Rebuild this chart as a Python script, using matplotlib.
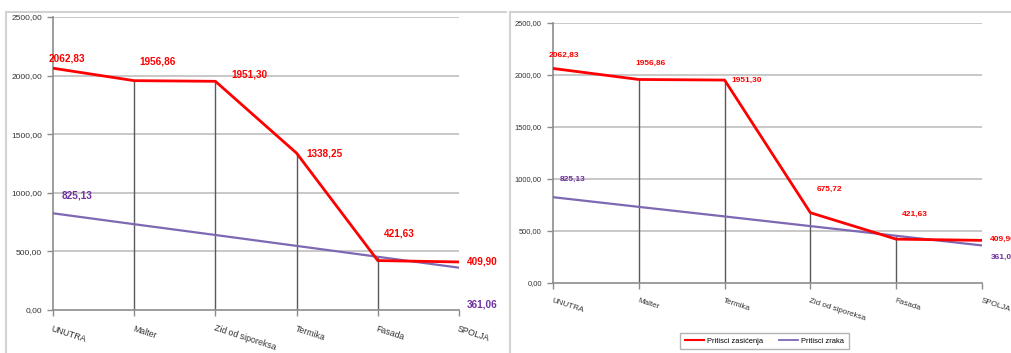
import matplotlib
matplotlib.use("Agg")
import matplotlib.pyplot as plt
from matplotlib.lines import Line2D

plt.rcParams['font.family'] = ['Liberation Sans', 'DejaVu Sans']

# Layers of the wall, inside to outside
layers_a = ["UNUTRA", "Malter", "Zid od siporeksa", "Termika", "Fasada", "SPOLJA"]
layers_b = ["UNUTRA", "Malter", "Termika", "Zid od siporeksa", "Fasada", "SPOLJA"]

# Saturation pressure (Pa) through the wall
sat_a = [2062.83, 1956.86, 1951.30, 1338.25, 421.63, 409.90]
sat_b = [2062.83, 1956.86, 1951.30, 675.72, 421.63, 409.90]

# Partial vapour pressure (Pa) through the wall
air_a = [825.13, 732.0, 640.0, 547.0, 454.0, 361.06]
air_b = [825.13, 732.0, 640.0, 547.0, 454.0, 361.06]

y_ticks = [0, 500, 1000, 1500, 2000, 2500]

RED = "#FF0000"
PURPLE_LINE = "#7E68B4"
PURPLE_TEXT = "#7030A0"
W, H = 1011, 353


def fmt(v):
    return f"{v:.2f}".replace(".", ",")


def draw_panel(ax, cats, sat, air, sat_off, air_off, lab_size, tick_size, xlab_size):
    x = list(range(len(cats)))
    ax.set_xlim(0, len(cats) - 1)
    ax.set_ylim(0, 2500)
    for y in y_ticks[1:]:
        ax.axhline(y, color="#C4C4C4", lw=1.3, zorder=1)
    # drop lines from the upper series down to the category axis
    for i in x[1:-1]:
        ax.vlines(i, 0, max(sat[i], air[i]), color="#5A5A5A", lw=1.0, zorder=2)
    ax.plot(x, air, color=PURPLE_LINE, lw=1.6, zorder=3)
    ax.plot(x, sat, color=RED, lw=2.0, zorder=4)

    for i, (dx, dy) in enumerate(sat_off):
        ax.annotate(fmt(sat[i]), (x[i], sat[i]), xytext=(dx, dy),
                    textcoords="offset pixels", ha="center", va="center",
                    color=RED, fontsize=lab_size, fontweight="bold",
                    annotation_clip=False, zorder=5)
    for i, (dx, dy) in air_off:
        ax.annotate(fmt(air[i]), (x[i], air[i]), xytext=(dx, dy),
                    textcoords="offset pixels", ha="center", va="center",
                    color=PURPLE_TEXT, fontsize=lab_size, fontweight="bold",
                    annotation_clip=False, zorder=5)

    ax.set_yticks(y_ticks)
    ax.set_yticklabels([fmt(v) for v in y_ticks], fontsize=tick_size, color="#333333")
    ax.set_xticks(x)
    ax.set_xticklabels(cats, fontsize=xlab_size, color="#333333",
                       rotation=-18, ha="left", va="top", rotation_mode="anchor")
    for s in ("top", "right"):
        ax.spines[s].set_visible(False)
    for s in ("left", "bottom"):
        ax.spines[s].set_color("#8C8C8C")
        ax.spines[s].set_linewidth(1.2)
    ax.tick_params(axis="both", color="#8C8C8C", length=4, width=1.0)
    ax.tick_params(axis="y", pad=4)
    ax.tick_params(axis="x", pad=6)
    ax.set_facecolor("white")


fig = plt.figure(figsize=(W / 100, H / 100), dpi=100)
fig.patch.set_facecolor("white")


def box(l, t, r, b):
    return [l / W, 1 - b / H, (r - l) / W, (b - t) / H]


ax1 = fig.add_axes(box(53, 17, 459, 310))
ax2 = fig.add_axes(box(553, 23, 982, 283))

draw_panel(ax1, layers_a, sat_a, air_a,
           [(14, 10), (23, 19), (34, 7), (28, 0), (21, 27), (23, 0)],
           [(0, (24, 18)), (5, (23, -37))],
           lab_size=7.2, tick_size=6.0, xlab_size=6.3)
draw_panel(ax2, layers_b, sat_b, air_b,
           [(11, 13), (12, 16), (22, 0), (19, 23), (19, 25), (21, 1)],
           [(0, (20, 18)), (5, (22, -12))],
           lab_size=6.0, tick_size=5.4, xlab_size=5.8)

ax2.legend([Line2D([], [], color=RED, lw=1.5), Line2D([], [], color=PURPLE_LINE, lw=1.3)],
           ["Pritisci zasićenja", "Pritisci zraka"],
           loc="center", bbox_to_anchor=((764.5 - 553) / (982 - 553), -(341 - 283) / (283 - 23)),
           ncol=2, fontsize=5.4, frameon=True, fancybox=False, edgecolor="#A0A0A0",
           handlelength=2.6, handletextpad=0.4, columnspacing=2.0, borderpad=0.6)

# panel frames
fc = "#D2D2D2"
fig.add_artist(Line2D([6 / W, 6 / W], [0, 1 - 12 / H], color=fc, lw=1.5))
fig.add_artist(Line2D([6 / W, 506 / W], [1 - 12 / H, 1 - 12 / H], color=fc, lw=1.5))
fig.add_artist(Line2D([510 / W, 510 / W], [0, 1 - 12 / H], color=fc, lw=1.5))
fig.add_artist(Line2D([510 / W, 1], [1 - 12 / H, 1 - 12 / H], color=fc, lw=1.5))

fig.savefig("out.png", dpi=100)
